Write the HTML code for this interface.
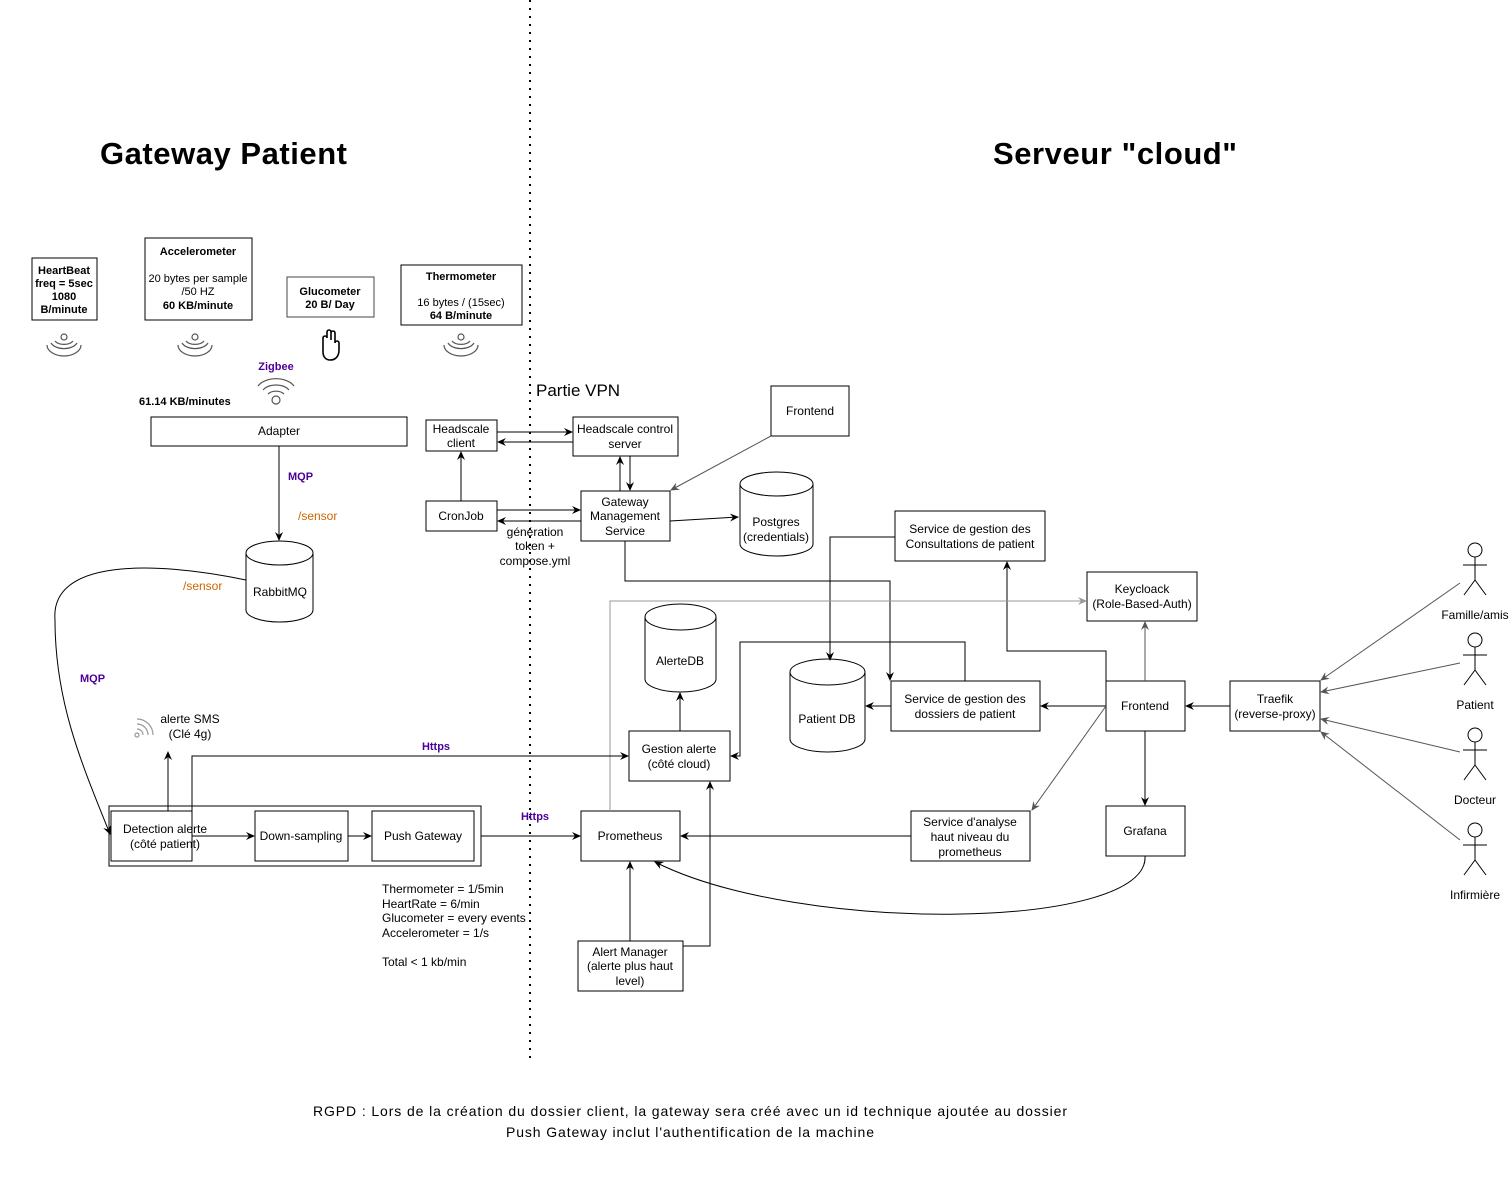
<!DOCTYPE html>
<html><head><meta charset="utf-8"><style>
body{margin:0;background:#fff}
svg{display:block;font-family:"Liberation Sans",Arial,sans-serif}
text{font-size:12px;fill:#000}
.b{font-weight:bold}
.p{fill:#4c0099;font-weight:bold;font-size:11px}
.o{fill:#cc6600}
</style></head><body>
<svg width="1509" height="1191" viewBox="0 0 1509 1191" xmlns="http://www.w3.org/2000/svg">
<defs>
<marker id="a" markerWidth="10" markerHeight="10" refX="8" refY="5" orient="auto" markerUnits="userSpaceOnUse"><path d="M0,1 L9,5 L0,9 L3,5 z" fill="#000"/></marker>
<marker id="g" markerWidth="10" markerHeight="10" refX="8" refY="5" orient="auto" markerUnits="userSpaceOnUse"><path d="M0,1 L9,5 L0,9 L3,5 z" fill="#555"/></marker>
<marker id="l" markerWidth="10" markerHeight="10" refX="8" refY="5" orient="auto" markerUnits="userSpaceOnUse"><path d="M0,1 L9,5 L0,9 L3,5 z" fill="#999"/></marker>
</defs>
<line x1="530" y1="0" x2="530" y2="1062" stroke="#000" stroke-width="2" stroke-dasharray="2,6"/>
<text x="100" y="164" class="b" style="font-size:31px" textLength="247">Gateway Patient</text>
<text x="993" y="164" class="b" style="font-size:31px" textLength="244">Serveur "cloud"</text>
<text x="536" y="396" style="font-size:17px">Partie VPN</text>

<g fill="#fff" stroke="#000" stroke-width="1">
<rect x="32" y="258" width="65" height="62"/>
<rect x="145" y="238" width="107" height="82"/>
<rect x="287" y="277" width="87" height="40" stroke="#444"/>
<rect x="401" y="265" width="121" height="60"/>
<rect x="151" y="417" width="256" height="29"/>
<rect x="426" y="420" width="71" height="31"/>
<rect x="573" y="417" width="105" height="39"/>
<rect x="426" y="501" width="71" height="30"/>
<rect x="581" y="491" width="89" height="50"/>
<rect x="771" y="386" width="78" height="50"/>
<rect x="895" y="511" width="150" height="50"/>
<rect x="1087" y="572" width="110" height="49"/>
<rect x="891" y="681" width="149" height="50"/>
<rect x="1106" y="681" width="79" height="50"/>
<rect x="1230" y="681" width="90" height="50"/>
<rect x="629" y="731" width="101" height="50"/>
<rect x="109" y="806" width="372" height="60"/>
<rect x="111" y="811" width="81" height="50"/>
<rect x="255" y="811" width="93" height="50"/>
<rect x="372" y="811" width="102" height="50"/>
<rect x="581" y="811" width="99" height="50"/>
<rect x="911" y="811" width="119" height="50"/>
<rect x="1106" y="806" width="79" height="50"/>
<rect x="578" y="941" width="105" height="50"/>
</g>
<g fill="#fff" stroke="#000">
<path d="M246,553 v57 a33.5,12 0 0 0 67,0 v-57"/><ellipse cx="279.5" cy="553" rx="33.5" ry="12"/>
<path d="M740,484 v60 a36.5,12 0 0 0 73,0 v-60"/><ellipse cx="776.5" cy="484" rx="36.5" ry="12"/>
<path d="M645,617 v62 a35.5,13 0 0 0 71,0 v-62"/><ellipse cx="680.5" cy="617" rx="35.5" ry="13"/>
<path d="M790,672 v67 a37.5,13 0 0 0 75,0 v-67"/><ellipse cx="827.5" cy="672" rx="37.5" ry="13"/>
</g>

<g text-anchor="middle">
<text x="64" y="274" class="b" style="font-size:11px">HeartBeat</text>
<text x="64" y="287" class="b" style="font-size:11px">freq = 5sec</text>
<text x="64" y="300" class="b" style="font-size:11px">1080</text>
<text x="64" y="313" class="b" style="font-size:11px">B/minute</text>
<text x="198" y="255" class="b" style="font-size:11px">Accelerometer</text>
<text x="198" y="282" style="font-size:11px">20 bytes per sample</text>
<text x="198" y="295" style="font-size:11px">/50 HZ</text>
<text x="198" y="309" class="b" style="font-size:11px">60 KB/minute</text>
<text x="330" y="295" class="b" style="font-size:11px">Glucometer</text>
<text x="330" y="308" class="b" style="font-size:11px">20 B/ Day</text>
<text x="461" y="280" class="b" style="font-size:11px">Thermometer</text>
<text x="461" y="306" style="font-size:11px">16 bytes / (15sec)</text>
<text x="461" y="319" class="b" style="font-size:11px">64 B/minute</text>
<text x="279" y="435">Adapter</text>
<text x="280" y="596">RabbitMQ</text>
<text x="461" y="433">Headscale</text><text x="461" y="447">client</text>
<text x="625" y="433">Headscale control</text><text x="625" y="448">server</text>
<text x="461" y="520">CronJob</text>
<text x="625" y="506">Gateway</text><text x="625" y="520">Management</text><text x="625" y="535">Service</text>
<text x="810" y="415">Frontend</text>
<text x="776" y="526">Postgres</text><text x="776" y="541">(credentials)</text>
<text x="970" y="533">Service de gestion des</text><text x="970" y="548">Consultations de patient</text>
<text x="1142" y="593">Keycloack</text><text x="1142" y="608">(Role-Based-Auth)</text>
<text x="680" y="665">AlerteDB</text>
<text x="827" y="723">Patient DB</text>
<text x="965" y="703">Service de gestion des</text><text x="965" y="718">dossiers de patient</text>
<text x="1145" y="710">Frontend</text>
<text x="1275" y="703">Traefik</text><text x="1275" y="718">(reverse-proxy)</text>
<text x="679" y="753">Gestion alerte</text><text x="679" y="768">(côté cloud)</text>
<text x="165" y="833">Detection alerte</text><text x="165" y="848">(côté patient)</text>
<text x="301" y="840">Down-sampling</text>
<text x="423" y="840">Push Gateway</text>
<text x="630" y="840">Prometheus</text>
<text x="970" y="826">Service d'analyse</text><text x="970" y="841">haut niveau du</text><text x="970" y="856">prometheus</text>
<text x="1145" y="835">Grafana</text>
<text x="630" y="956">Alert Manager</text><text x="630" y="970">(alerte plus haut</text><text x="630" y="985">level)</text>
<text x="276" y="370" class="p">Zigbee</text>
<text x="535" y="536">génération</text><text x="535" y="550">token +</text><text x="535" y="565">compose.yml</text>
<text x="190" y="723">alerte SMS</text><text x="190" y="738">(Clé 4g)</text>
<text x="436" y="750" class="p">Https</text>
<text x="535" y="820" class="p">Https</text>
<text x="1475" y="619">Famille/amis</text>
<text x="1475" y="709">Patient</text>
<text x="1475" y="804">Docteur</text>
<text x="1475" y="899">Infirmière</text>
</g>
<text x="313" y="1116" style="font-size:14px" textLength="754">RGPD : Lors de la création du dossier client, la gateway sera créé avec un id technique ajoutée au dossier</text>
<text x="506" y="1137" style="font-size:14px" textLength="368">Push Gateway inclut l'authentification de la machine</text>
<text x="139" y="405" class="b" style="font-size:11px">61.14 KB/minutes</text>
<text x="288" y="480" class="p">MQP</text>
<text x="80" y="682" class="p">MQP</text>
<text x="298" y="520" class="o">/sensor</text>
<text x="183" y="590" class="o">/sensor</text>
<text x="382" y="893">Thermometer  = 1/5min</text>
<text x="382" y="908">HeartRate = 6/min</text>
<text x="382" y="922">Glucometer = every events</text>
<text x="382" y="937">Accelerometer =  1/s</text>
<text x="382" y="966">Total &lt; 1 kb/min</text>

<g fill="none" stroke="#555" stroke-width="1.2">
<g transform="translate(64,337)"><circle cx="0" cy="0" r="3"/><path d="M-9,4 a10,6 0 0 0 18,0 M-13,6 a14,9 0 0 0 26,0 M-17,8 a17,11 0 0 0 34,0"/></g>
<g transform="translate(195,337)"><circle cx="0" cy="0" r="3"/><path d="M-9,4 a10,6 0 0 0 18,0 M-13,6 a14,9 0 0 0 26,0 M-17,8 a17,11 0 0 0 34,0"/></g>
<g transform="translate(461,337)"><circle cx="0" cy="0" r="3"/><path d="M-9,4 a10,6 0 0 0 18,0 M-13,6 a14,9 0 0 0 26,0 M-17,8 a17,11 0 0 0 34,0"/></g>
<g transform="translate(276,400)"><circle cx="0" cy="0" r="4"/><path d="M-8,-6 a10,7 0 0 1 16,0 M-13,-10 a15,10 0 0 1 26,0 M-18,-14 a20,13 0 0 1 36,0"/></g>
<g transform="translate(135,735)" stroke="#999"><circle cx="2" cy="0" r="2"/><path d="M2,-6 a6,6 0 0 1 6,6 M2,-11 a11,11 0 0 1 11,11 M2,-16 a16,16 0 0 1 16,16"/></g>
<path d="M323,352 v-14 a2,2 0 0 1 4,0 v-6 a2,2 0 0 1 4,0 v8 v-7 a2,2 0 0 1 4,0 v10 a2,2 0 0 1 4,0 v7 c0,7 -4,10 -9,10 c-4,0 -7,-3 -7,-8 z" stroke="#000" stroke-width="1.6"/>
</g>

<g fill="none" stroke="#000" stroke-width="1">
<path d="M279,446 V540" marker-end="url(#a)"/>
<path d="M246,580 C150,560 50,560 55,620 C55,700 80,760 110,834" marker-end="url(#a)"/>
<path d="M497,432 H572" marker-end="url(#a)"/>
<path d="M573,442 H498" marker-end="url(#a)"/>
<path d="M461,501 V452" marker-end="url(#a)"/>
<path d="M497,510 H580" marker-end="url(#a)"/>
<path d="M581,521 H498" marker-end="url(#a)"/>
<path d="M620,491 V457" marker-end="url(#a)"/>
<path d="M630,456 V490" marker-end="url(#a)"/>
<path d="M670,521 L738,517" marker-end="url(#a)"/>
<path d="M771,436 L671,490" stroke="#555" marker-end="url(#g)"/>
<path d="M625,541 V581 H890 V680" marker-end="url(#a)"/>
<path d="M895,537 H830 V660" marker-end="url(#a)"/>
<path d="M965,681 V642 H740 V756 H731" marker-end="url(#a)"/>
<path d="M891,706 H866" marker-end="url(#a)"/>
<path d="M1106,706 H1041" marker-end="url(#a)"/>
<path d="M1230,706 H1186" marker-end="url(#a)"/>
<path d="M1106,681 V651 H1007 V562" marker-end="url(#a)"/>
<path d="M1145,681 V622" stroke="#555" marker-end="url(#g)"/>
<path d="M1145,731 V805" marker-end="url(#a)"/>
<path d="M1106,706 L1032,810" stroke="#555" marker-end="url(#g)"/>
<path d="M911,836 H681" marker-end="url(#a)"/>
<path d="M1145,856 C1150,930 800,935 655,862" marker-end="url(#a)"/>
<path d="M630,941 V862" marker-end="url(#a)"/>
<path d="M683,946 H710 V782" marker-end="url(#a)"/>
<path d="M610,811 V601 H1086" stroke="#999" marker-end="url(#l)"/>
<path d="M680,731 V693" marker-end="url(#a)"/>
<path d="M168,811 V752" marker-end="url(#a)"/>
<path d="M192,811 V756 H628" marker-end="url(#a)"/>
<path d="M192,836 H254" marker-end="url(#a)"/>
<path d="M348,836 H371" marker-end="url(#a)"/>
<path d="M481,836 H580" marker-end="url(#a)"/>
<g stroke="#555">
<path d="M1460,583 L1321,680" marker-end="url(#g)"/>
<path d="M1460,663 L1321,692" marker-end="url(#g)"/>
<path d="M1460,752 L1321,719" marker-end="url(#g)"/>
<path d="M1460,840 L1321,732" marker-end="url(#g)"/>
</g>
</g>
<g fill="#fff" stroke="#000">
<g transform="translate(1475,550)"><circle cx="0" cy="0" r="7"/><path d="M0,7 V30 M-12,15 H12 M0,30 L-11,45 M0,30 L11,45"/></g>
<g transform="translate(1475,640)"><circle cx="0" cy="0" r="7"/><path d="M0,7 V30 M-12,15 H12 M0,30 L-11,45 M0,30 L11,45"/></g>
<g transform="translate(1475,735)"><circle cx="0" cy="0" r="7"/><path d="M0,7 V30 M-12,15 H12 M0,30 L-11,45 M0,30 L11,45"/></g>
<g transform="translate(1475,830)"><circle cx="0" cy="0" r="7"/><path d="M0,7 V30 M-12,15 H12 M0,30 L-11,45 M0,30 L11,45"/></g>
</g>
</svg>
</body></html>
